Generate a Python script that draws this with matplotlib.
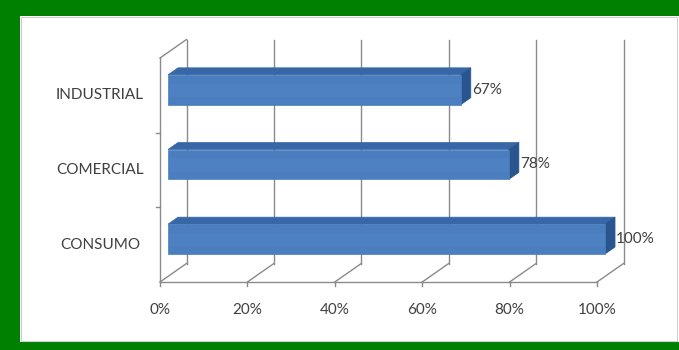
import matplotlib
matplotlib.use("Agg")
import matplotlib.pyplot as plt
from matplotlib.patches import Polygon, Rectangle

categories = ["CONSUMO", "COMERCIAL", "INDUSTRIAL"]
values = [100, 78, 67]
value_labels = ["100%", "78%", "67%"]
tick_values = [0, 20, 40, 60, 80, 100]
tick_labels = ["0%", "20%", "40%", "60%", "80%", "100%"]

plt.rcParams['font.family'] = ['Lato', 'DejaVu Sans']
text_color = '#404040'
grid_color = '#8a8a8a'

fig = plt.figure(figsize=(6.79, 3.5), dpi=100, facecolor='#008000')
W, H = 679.0, 350.0

# white chart area with thin grey edge
fig.patches.append(Rectangle((20 / W, 8 / H), 659 / W, 326 / H, transform=fig.transFigure,
                             facecolor='white', edgecolor='none', zorder=-2))
fig.patches.append(Rectangle((21 / W, 9 / H), 656 / W, 324 / H, transform=fig.transFigure,
                             facecolor='none', edgecolor='#cfcfcf', lw=0.8, zorder=-1))

# plot area = front plane of the 3d box
ax = fig.add_axes([160 / W, (H - 282) / H, 437 / W, 224 / H])
ax.set_xlim(0, 100)
ax.set_ylim(0, len(categories))
ax.axis('off')

# depth offset of the back wall, in data units
DX = 26.5 * 100 / 437
DY = 18.5 * len(categories) / 224
ymax = len(categories)

# back wall gridlines and floor diagonals
for t in tick_values:
    ax.plot([t + DX, t + DX], [DY, ymax + DY], color=grid_color, lw=1, clip_on=False, zorder=1)
    ax.plot([t, t + DX], [0, DY], color=grid_color, lw=1, clip_on=False, zorder=1)
    ax.plot([t, t], [0, -0.05], color=grid_color, lw=1, clip_on=False, zorder=1)
# front floor edge and left wall
ax.plot([0, 100], [0, 0], color=grid_color, lw=1, clip_on=False, zorder=1)
ax.plot([0, 0], [0, ymax], color=grid_color, lw=1, clip_on=False, zorder=1)
ax.plot([0, DX], [ymax, ymax + DY], color=grid_color, lw=1, clip_on=False, zorder=1)
for b in range(1, len(categories)):
    ax.plot([-0.9, 0], [b, b], color=grid_color, lw=1, clip_on=False, zorder=1)

# 3d bars
d0, d1 = 0.30, 0.68
half = 0.20
front_c, top_c, side_c = '#4a7ebf', '#3867a8', '#28558e'
for i, (v, lab) in enumerate(zip(values, value_labels)):
    x0, x1 = d0 * DX, v + d0 * DX
    yb = i + 0.5 - half + d0 * DY
    yt = i + 0.5 + half + d0 * DY
    ddx, ddy = (d1 - d0) * DX, (d1 - d0) * DY
    ax.add_patch(Polygon([(x0, yt), (x1, yt), (x1 + ddx, yt + ddy), (x0 + ddx, yt + ddy)],
                         closed=True, facecolor=top_c, edgecolor=top_c, lw=0.5, zorder=3, clip_on=False))
    ax.add_patch(Polygon([(x1, yb), (x1 + ddx, yb + ddy), (x1 + ddx, yt + ddy), (x1, yt)],
                         closed=True, facecolor=side_c, edgecolor=side_c, lw=0.5, zorder=3, clip_on=False))
    ax.add_patch(Rectangle((x0, yb), v, 2 * half, facecolor=front_c, edgecolor=front_c,
                           lw=0.5, zorder=4, clip_on=False))
    # faint lighter band on the front face
    ax.add_patch(Rectangle((x0, yb + 0.10), v, 0.18, facecolor='#5a8dcc', edgecolor='none',
                           alpha=0.25, zorder=5, clip_on=False))
    ax.text(v + d1 * DX + 0.2, i + 0.5 + d0 * DY, lab, ha='left', va='center',
            fontsize=11, color=text_color, zorder=6, clip_on=False)

# category labels
for i, c in enumerate(categories):
    ax.text(-0.137, i + 0.5, c, transform=ax.get_yaxis_transform(), ha='center', va='center',
            fontsize=11, color=text_color)

# value axis labels
for t, lab in zip(tick_values, tick_labels):
    ax.text(t, -0.125, lab, transform=ax.get_xaxis_transform(), ha='center', va='center',
            fontsize=11, color=text_color)

fig.savefig('out.png', dpi=100, facecolor=fig.get_facecolor())
